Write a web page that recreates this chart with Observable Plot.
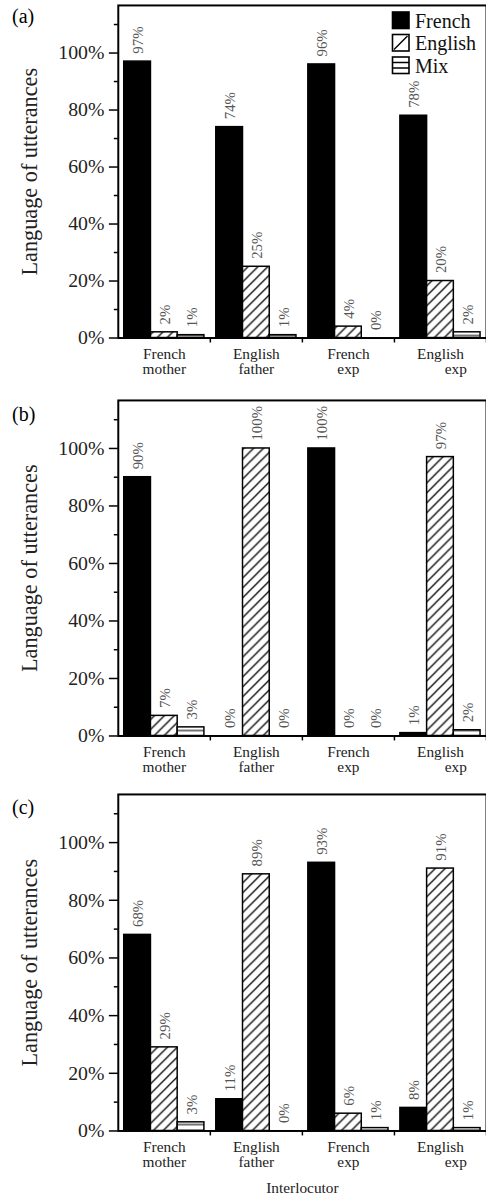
<!DOCTYPE html>
<html><head><meta charset="utf-8">
<script src="https://cdn.jsdelivr.net/npm/d3@7"></script>
<script src="https://cdn.jsdelivr.net/npm/@observablehq/plot@0.6"></script>
<style>
html,body{margin:0;padding:0;background:#fff;overflow:hidden;}
#root{position:relative;width:486px;height:1202px;overflow:hidden;font-family:"Liberation Serif","Times New Roman",serif;color:#000;}
.panel{position:absolute;left:0;}
.plabel{position:absolute;left:12px;font-size:20px;line-height:20px;}
#legend{position:absolute;left:0;top:0;}
</style></head><body>
<svg width="0" height="0" style="position:absolute">
  <defs>
    <pattern id="hatch" patternUnits="userSpaceOnUse" width="10" height="10">
      <rect width="10" height="10" fill="#fff"/>
      <path d="M-2,2 L2,-2 M0,10 L10,0 M8,12 L12,8" stroke="#000" stroke-width="1.3"/>
    </pattern>
    <pattern id="mixfill" patternUnits="userSpaceOnUse" width="6" height="6">
      <rect width="6" height="6" fill="#fff"/>
      <line x1="0" x2="6" y1="3" y2="3" stroke="#000" stroke-width="1.1"/>
    </pattern>
  </defs>
</svg>
<div id="root"></div>
<script>
// ---- data ----
const interlocutors = ["French mother", "English father", "French exp", "English exp"];
const interlocutorLabels = ["French\nmother", "English\nfather", "French\nexp", "English\n\u00a0\u00a0\u00a0\u00a0\u00a0\u00a0\u00a0\u00a0exp"];
const languages = ["French", "English", "Mix"];
const panelNames = ["(a)", "(b)", "(c)"];

const frenchA = [97, 74, 96, 78];
const englishA = [2, 25, 4, 20];
const mixA = [1, 1, 0, 2];

const frenchB = [90, 0, 100, 1];
const englishB = [7, 100, 0, 97];
const mixB = [3, 0, 0, 2];

const frenchC = [68, 11, 93, 8];
const englishC = [29, 89, 6, 91];
const mixC = [3, 0, 1, 1];

const majorTicks = [0, 20, 40, 60, 80, 100];
const minorTicks = [10, 30, 50, 70, 90, 110];
const yTitle = "Language of utterances";
const xTitle = "Interlocutor";

// ---- styling ----
const fills = {French: "#000", English: "url(#hatch)", Mix: "url(#mixfill)"};
const bandW = 93, barW = 27, pad = 6;
const labelMap = Object.fromEntries(interlocutors.map((g, i) => [g, interlocutorLabels[i]]));

const panels = [
  {name: panelNames[0], series: [frenchA, englishA, mixA], frameTop: 5, frameH: 336, mb: 45, labelTop: 6},
  {name: panelNames[1], series: [frenchB, englishB, mixB], frameTop: 400, frameH: 339, mb: 45, labelTop: 404},
  {name: panelNames[2], series: [frenchC, englishC, mixC], frameTop: 794, frameH: 340, mb: 72, labelTop: 797, last: true}
];

const root = document.getElementById("root");

for (const p of panels) {
  const data = [];
  interlocutors.forEach((g, i) => languages.forEach((l, j) => data.push({group: g, lang: l, value: p.series[j][i]})));
  const marks = [];
  languages.forEach((l, j) => {
    const sub = data.filter(d => d.lang === l);
    marks.push(Plot.barY(sub, {
      x: "group", y: "value", fill: fills[l], stroke: "#000", strokeWidth: 1.5,
      insetLeft: pad + barW * j, insetRight: bandW - pad - barW * (j + 1)
    }));
    marks.push(Plot.text(sub, {
      x: "group", y: "value", text: d => d.value + "%", rotate: -90, textAnchor: "start",
      dx: (j - 1) * barW + 1, dy: -8, fill: "#555", fontSize: 15
    }));
  });
  marks.push(Plot.frame({stroke: "#000", strokeWidth: 2}));
  marks.push(Plot.axisY({ticks: majorTicks, tickSize: 9, tickPadding: 5, tickFormat: d => d + "%", fontSize: 20, strokeWidth: 1.5, fill: "#222", label: null}));
  marks.push(Plot.axisY({ticks: minorTicks, tickSize: 4, tickFormat: () => "", strokeWidth: 1.5, label: null}));
  marks.push(Plot.axisX({tickSize: 0, tickPadding: 10, tickFormat: d => labelMap[d], fontSize: 15.5, fill: "#222", label: null}));
  marks.push(Plot.axisX({tickSize: 5, tickFormat: () => "", dx: bandW / 2, strokeWidth: 1.5, label: null}));
  marks.push(Plot.text([yTitle], {frameAnchor: "left", textAnchor: "middle", lineAnchor: "middle", rotate: -90, dx: -89, fontSize: 22.5, fill: "#222"}));
  if (p.last) marks.push(Plot.text([xTitle], {frameAnchor: "bottom", textAnchor: "middle", lineAnchor: "middle", dy: 58, fontSize: 15.5, fill: "#222"}));

  const chart = Plot.plot({
    width: 119 + bandW * 4,
    height: 5 + p.frameH + p.mb,
    marginLeft: 119, marginRight: 0, marginTop: 5, marginBottom: p.mb,
    style: {fontFamily: "'Liberation Serif', 'Times New Roman', serif", fontSize: "15px", background: "transparent", color: "#000", overflow: "visible"},
    x: {domain: interlocutors, padding: 0},
    y: {domain: [0, 116.7]},
    marks
  });
  chart.classList.add("panel");
  chart.style.top = (p.frameTop - 5) + "px";
  root.appendChild(chart);

  const lab = document.createElement("div");
  lab.className = "plabel";
  lab.style.top = p.labelTop + "px";
  lab.textContent = p.name;
  root.appendChild(lab);
}

// ---- legend (panel a, top right) ----
const ns = "http://www.w3.org/2000/svg";
const lg = document.createElementNS(ns, "svg");
lg.setAttribute("id", "legend");
lg.setAttribute("width", 486);
lg.setAttribute("height", 90);
languages.forEach((l, i) => {
  const y0 = 12 + 22.5 * i;
  const g = document.createElementNS(ns, "g");
  const r = document.createElementNS(ns, "rect");
  r.setAttribute("x", 392.5); r.setAttribute("y", y0);
  r.setAttribute("width", 16.5); r.setAttribute("height", 16.5);
  r.setAttribute("fill", l === "French" ? "#000" : "#fff");
  r.setAttribute("stroke", "#000"); r.setAttribute("stroke-width", 1.6);
  g.appendChild(r);
  if (l === "English") {
    const ln = document.createElementNS(ns, "line");
    ln.setAttribute("x1", 394); ln.setAttribute("y1", y0 + 15);
    ln.setAttribute("x2", 407.5); ln.setAttribute("y2", y0 + 1.5);
    ln.setAttribute("stroke", "#000"); ln.setAttribute("stroke-width", 1.5);
    g.appendChild(ln);
  }
  if (l === "Mix") {
    [5.5, 11].forEach(k => {
      const ln = document.createElementNS(ns, "line");
      ln.setAttribute("x1", 392.5); ln.setAttribute("x2", 409);
      ln.setAttribute("y1", y0 + k); ln.setAttribute("y2", y0 + k);
      ln.setAttribute("stroke", "#000"); ln.setAttribute("stroke-width", 1.5);
      g.appendChild(ln);
    });
  }
  const t = document.createElementNS(ns, "text");
  t.setAttribute("x", 415); t.setAttribute("y", y0 + 15.5);
  t.setAttribute("font-size", 20);
  t.setAttribute("fill", "#111");
  t.setAttribute("font-family", "'Liberation Serif', 'Times New Roman', serif");
  t.textContent = l;
  g.appendChild(t);
  lg.appendChild(g);
});
root.appendChild(lg);
</script>
</body></html>
